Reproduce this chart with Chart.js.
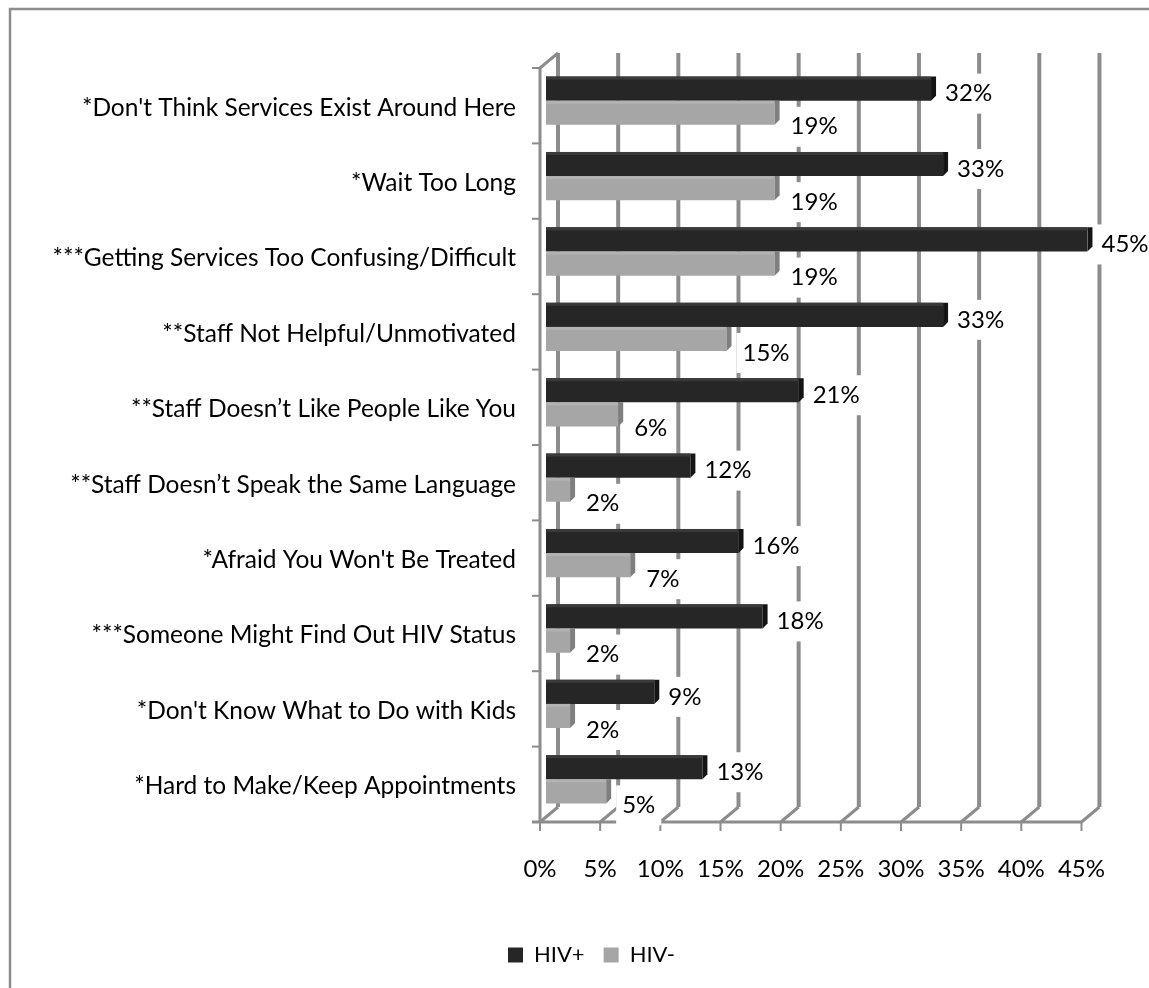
<!DOCTYPE html>
<html>
<head>
<meta charset="utf-8">
<script src="https://cdn.jsdelivr.net/npm/chart.js@4/dist/chart.umd.min.js"></script>
<style>
  html, body { margin: 0; padding: 0; background: #fff; }
  #wrap { width: 1149px; height: 988px; position: relative; }
</style>
</head>
<body>
<div id="wrap"><canvas id="chart"></canvas></div>
<script>
// values
const categories = [
  "*Don't Think Services Exist Around Here",
  "*Wait Too Long",
  "***Getting Services Too Confusing/Difficult",
  "**Staff Not Helpful/Unmotivated",
  "**Staff Doesn\u2019t Like People Like You",
  "**Staff Doesn\u2019t Speak the Same Language",
  "*Afraid You Won't Be Treated",
  "***Someone Might Find Out HIV Status",
  "*Don't Know What to Do with Kids",
  "*Hard to Make/Keep Appointments"
];
const hivPos = [32, 33, 45, 33, 21, 12, 16, 18, 9, 13];
const hivNeg = [19, 19, 19, 15, 6, 2, 7, 2, 2, 5];
const seriesNames = ['HIV+', 'HIV-'];
const xMin = 0, xMax = 45, xStep = 5;

const FONT = 'Lato';
const GRID = '#8c8c8c';

// pseudo 3D frame like the old excel chart: back wall grid + floor edge
const frame3d = {
  id: 'frame3d',
  afterLayout(chart) {
    // legend in the original sits a bit right of the page centre
    const L = chart.legend;
    if (L) { L.left += 47; L.right += 47; }
  },
  beforeDraw(chart) {
    const ctx = chart.ctx;
    ctx.save();
    ctx.strokeStyle = GRID;
    ctx.lineWidth = 2.5;
    ctx.strokeRect(10, 9, 1400, 1400);
    ctx.restore();
  },
  beforeDatasetsDraw(chart) {
    const { ctx, chartArea: a, scales: { x } } = chart;
    const back = 12, front = -6, up = 10, down = 5;
    ctx.save();
    ctx.strokeStyle = GRID;
    ctx.lineCap = 'butt';
    x.ticks.forEach(t => {
      const px = x.getPixelForValue(t.value);
      ctx.lineWidth = 4;
      ctx.beginPath();
      ctx.moveTo(px + back, a.top - up);
      ctx.lineTo(px + back, a.bottom - up);
      ctx.stroke();
      ctx.lineWidth = 3;
      ctx.beginPath();
      ctx.moveTo(px + back, a.bottom - up);
      ctx.lineTo(px + front, a.bottom + down);
      ctx.stroke();
      // tick under floor
      ctx.lineWidth = 2;
      ctx.beginPath();
      ctx.moveTo(px + front, a.bottom + down);
      ctx.lineTo(px + front, a.bottom + down + 9);
      ctx.stroke();
    });
    const x0 = x.getPixelForValue(xMin) + front;
    const x1 = x.getPixelForValue(xMax) + front;
    // floor front edge
    ctx.lineWidth = 3;
    ctx.beginPath();
    ctx.moveTo(x0 - 8, a.bottom + down);
    ctx.lineTo(x1, a.bottom + down);
    ctx.stroke();
    // left wall front edge
    ctx.beginPath();
    ctx.moveTo(x.getPixelForValue(xMin) + back, a.top - up);
    ctx.lineTo(x0, a.top + down);
    ctx.lineTo(x0, a.bottom + down);
    ctx.stroke();
    // category ticks on the left
    ctx.lineWidth = 2;
    const band = (a.bottom - a.top) / categories.length;
    for (let i = 0; i <= categories.length; i++) {
      const yy = a.top + down + band * i;
      ctx.beginPath();
      ctx.moveTo(x0 - 8, yy);
      ctx.lineTo(x0, yy);
      ctx.stroke();
    }
    ctx.restore();
  },
  afterDatasetsDraw(chart) {
    const ctx = chart.ctx;
    const sides = ['#141414', '#7f7f7f'];
    const tops = ['#3a3a3a', '#b2b2b2'];
    const offX = [14, 16], offY = [5, 14];
    ctx.save();
    chart.data.datasets.forEach((ds, di) => {
      const meta = chart.getDatasetMeta(di);
      meta.data.forEach((bar, i) => {
        const h = bar.height;
        const top = bar.y - h / 2, bottom = bar.y + h / 2;
        // top bevel
        ctx.fillStyle = tops[di];
        ctx.fillRect(bar.base, top, bar.x - bar.base, 3);
        // side face
        ctx.fillStyle = sides[di];
        ctx.beginPath();
        ctx.moveTo(bar.x, top);
        ctx.lineTo(bar.x + 5, top);
        ctx.lineTo(bar.x + 5, bottom - 5);
        ctx.lineTo(bar.x, bottom);
        ctx.closePath();
        ctx.fill();
        // value label on a white box
        const txt = ds.data[i] + '%';
        ctx.font = '24px ' + FONT;
        const w = ctx.measureText(txt).width;
        const tx = bar.x + offX[di], ty = bar.y + offY[di];
        ctx.fillStyle = '#fff';
        ctx.fillRect(tx - 6, ty - 20, w + 12, 40);
        ctx.fillStyle = '#000';
        ctx.textAlign = 'left';
        ctx.textBaseline = 'middle';
        ctx.fillText(txt, tx, ty);
      });
    });
    ctx.restore();
  }
};

new Chart(document.getElementById('chart').getContext('2d'), {
  type: 'bar',
  data: {
    labels: categories,
    datasets: [
      { label: seriesNames[0], data: hivPos, backgroundColor: '#262626', borderWidth: 0 },
      { label: seriesNames[1], data: hivNeg, backgroundColor: '#a6a6a6', borderWidth: 0 }
    ]
  },
  options: {
    indexAxis: 'y',
    responsive: true,
    maintainAspectRatio: false,
    animation: false,
    layout: { padding: { top: 63, right: 60, bottom: 12, left: 0 } },
    datasets: { bar: { categoryPercentage: 0.64, barPercentage: 1 } },
    plugins: {
      legend: {
        position: 'bottom',
        labels: { boxWidth: 15, boxHeight: 15, padding: 19, color: '#000', font: { family: FONT, size: 22 } }
      },
      tooltip: { enabled: false }
    },
    scales: {
      x: {
        min: xMin, max: xMax,
        grid: { display: false, drawTicks: false },
        border: { display: false },
        ticks: { stepSize: xStep, callback: v => v + '%', padding: 38, labelOffset: -6, color: '#000', font: { family: FONT, size: 24 } },
        afterFit(s) { s.height = 108; }
      },
      y: {
        grid: { display: false, drawTicks: false },
        border: { display: false },
        ticks: { padding: 30, labelOffset: 7, color: '#000', font: { family: FONT, size: 24.5 }, autoSkip: false },
        afterFit(s) { s.width = 546; }
      }
    }
  },
  plugins: [frame3d]
});
</script>
</body>
</html>
